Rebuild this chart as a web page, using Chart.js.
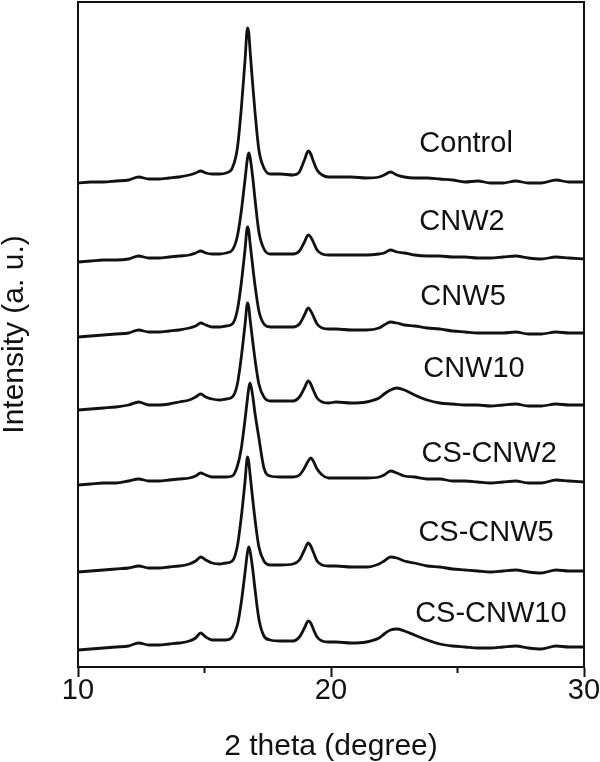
<!DOCTYPE html>
<html>
<head>
<meta charset="utf-8">
<title>XRD patterns</title>
<script src="https://cdn.jsdelivr.net/npm/chart.js@4.4.1/dist/chart.umd.min.js"></script>
<style>
  html, body { margin: 0; padding: 0; background: #fff; }
  #wrap { width: 600px; height: 762px; }
</style>
</head>
<body>
<div id="wrap"><canvas id="xrdChart" width="600" height="762"></canvas></div>
<script>
// ---- Data (2 theta in degrees, stacked intensity in a.u.) ----
const twoTheta = [10, 10.5, 11, 11.5, 12, 12.4, 12.8, 13.2, 13.6, 14, 14.4, 14.65, 14.85, 15.05, 15.3,
  15.6, 15.85, 16.1, 16.3, 16.45, 16.6, 16.7, 16.75, 16.8, 16.9, 17.0, 17.15, 17.35, 17.6, 18.0,
  18.5, 18.75, 18.95, 19.1, 19.2, 19.3, 19.45, 19.65, 19.9, 20.2, 20.8, 21.4, 21.9, 22.1, 22.35,
  22.6, 22.9, 23.3, 23.8, 24.3, 24.8, 25.3, 25.8, 26.3, 26.8, 27.3, 27.8, 28.3, 28.9, 29.4, 30];

const control = [484, 485, 485, 486, 487, 490, 488, 488, 489, 490, 492, 494, 496, 494, 493,
  493, 494, 499, 519, 557, 606, 639, 634, 617, 584, 554, 517, 499, 493, 493,
  492, 495, 507, 516, 513, 506, 497, 492, 490, 490, 490, 489, 490, 492, 495,
  492, 490, 489, 489, 488, 487, 485, 486, 484, 484, 486, 484, 484, 487, 485, 485];

const cnw2 = [405, 406, 407, 407, 408, 411, 409, 409, 410, 411, 412, 414, 416, 414, 413,
  413, 414, 417, 431, 455, 487, 509, 514, 510, 491, 467, 435, 418, 413, 413,
  413, 416, 425, 432, 430, 425, 417, 413, 412, 412, 412, 412, 413, 414, 417,
  415, 414, 412, 411, 411, 410, 410, 409, 409, 410, 411, 409, 408, 410, 409, 408];

const cnw5 = [330, 331, 332, 333, 334, 337, 335, 335, 336, 337, 339, 341, 344, 342, 340,
  340, 341, 343, 357, 383, 417, 440, 436, 424, 402, 381, 356, 343, 340, 340,
  340, 343, 352, 359, 356, 351, 343, 339, 338, 338, 337, 337, 339, 342, 345,
  344, 342, 341, 339, 338, 336, 335, 334, 334, 334, 335, 333, 333, 335, 334, 334];

const cnw10 = [257, 258, 259, 260, 262, 265, 262, 262, 263, 265, 267, 270, 273, 270, 268,
  267, 268, 270, 283, 309, 342, 364, 360, 348, 327, 307, 283, 270, 266, 266,
  266, 270, 279, 286, 283, 277, 269, 265, 264, 265, 264, 265, 269, 273, 277,
  279, 277, 272, 267, 264, 263, 262, 262, 261, 262, 263, 261, 261, 263, 262, 262];

const csCnw2 = [182, 183, 184, 184, 186, 188, 186, 186, 187, 188, 189, 191, 194, 192, 190,
  190, 190, 191, 201, 218, 247, 269, 279, 284, 272, 253, 229, 199, 191, 190,
  190, 192, 199, 206, 209, 206, 198, 192, 189, 189, 189, 189, 190, 192, 196,
  194, 191, 190, 188, 188, 186, 186, 185, 184, 185, 186, 184, 184, 187, 186, 185];

const csCnw5 = [95, 96, 97, 98, 99, 101, 99, 99, 100, 101, 103, 106, 110, 107, 104,
  103, 104, 106, 121, 149, 185, 210, 205, 193, 169, 147, 120, 106, 102, 102,
  103, 107, 117, 124, 121, 115, 106, 102, 101, 101, 100, 100, 103, 106, 110,
  109, 106, 104, 101, 100, 98, 97, 96, 95, 96, 97, 95, 94, 97, 96, 96];

const csCnw10 = [17, 18, 19, 20, 21, 24, 22, 22, 23, 24, 26, 29, 34, 30, 27,
  27, 27, 30, 42, 64, 94, 115, 120, 116, 99, 77, 48, 31, 27, 26,
  26, 30, 39, 46, 44, 38, 30, 26, 25, 25, 24, 25, 29, 33, 37,
  38, 36, 32, 27, 23, 21, 20, 19, 19, 20, 21, 19, 18, 21, 20, 20];

const sampleNames = ['Control', 'CNW2', 'CNW5', 'CNW10', 'CS-CNW2', 'CS-CNW5', 'CS-CNW10'];
const xTicks = [10, 20, 30];
const xMinorTicks = [15, 25];

// ---- Label placement (data coordinates) ----
const labelX = [25.34, 25.18, 25.22, 25.65, 26.25, 26.13, 26.32];
const labelY = [523, 445, 370, 298, 213, 134, 53];

(function () {
  'use strict';

  const FONT = "'Liberation Sans', Arial, sans-serif";
  const INK = '#111';
  const series = [control, cnw2, cnw5, cnw10, csCnw2, csCnw5, csCnw10];

  // frame, minor ticks and curve labels
  const decorations = {
    id: 'decorations',
    afterDraw(chart) {
      const { ctx, chartArea: a, scales: { x, y } } = chart;
      ctx.save();
      ctx.strokeStyle = INK;
      ctx.lineWidth = 2;
      ctx.beginPath();
      ctx.moveTo(a.left, a.top);
      ctx.lineTo(a.right, a.top);
      ctx.lineTo(a.right, a.bottom);
      ctx.stroke();

      xMinorTicks.forEach(v => {
        const px = x.getPixelForValue(v);
        ctx.beginPath();
        ctx.moveTo(px, a.bottom);
        ctx.lineTo(px, a.bottom + 6);
        ctx.stroke();
      });

      ctx.fillStyle = INK;
      ctx.font = '29px ' + FONT;
      ctx.textAlign = 'center';
      ctx.textBaseline = 'middle';
      sampleNames.forEach((name, i) => {
        ctx.fillText(name, x.getPixelForValue(labelX[i]), y.getPixelForValue(labelY[i]));
      });
      ctx.restore();
    }
  };

  new Chart(document.getElementById('xrdChart'), {
    type: 'line',
    data: {
      datasets: series.map((vals, i) => ({
        label: sampleNames[i],
        data: twoTheta.map((t, j) => ({ x: t, y: vals[j] })),
        borderColor: INK,
        borderWidth: 2.8,
        pointRadius: 0,
        fill: false,
        cubicInterpolationMode: 'monotone'
      }))
    },
    options: {
      responsive: false,
      animation: false,
      devicePixelRatio: 1,
      layout: { padding: { top: 2, right: 16, left: 0, bottom: 0 } },
      plugins: { legend: { display: false }, tooltip: { enabled: false } },
      scales: {
        x: {
          type: 'linear',
          min: 10,
          max: 30,
          afterBuildTicks: s => { s.ticks = xTicks.map(v => ({ value: v })); },
          afterFit: s => { s.height = 95; },
          ticks: { color: INK, padding: -1, maxRotation: 0, font: { family: FONT, size: 29, lineHeight: 1 } },
          grid: { drawOnChartArea: false, tickLength: 10, tickWidth: 2, tickColor: INK },
          border: { display: true, color: INK, width: 2 },
          title: { display: true, text: '2 theta (degree)', color: INK, padding: { top: 0, bottom: -3 }, font: { family: FONT, size: 30 } }
        },
        y: {
          min: 0,
          max: 665,
          afterFit: s => { s.width = 78; },
          ticks: { display: false },
          grid: { drawOnChartArea: false, drawTicks: false },
          border: { display: true, color: INK, width: 2 },
          title: { display: true, text: 'Intensity (a. u.)', color: INK, padding: 0, font: { family: FONT, size: 30, lineHeight: 1 } }
        }
      }
    },
    plugins: [decorations]
  });
})();
</script>
</body>
</html>
